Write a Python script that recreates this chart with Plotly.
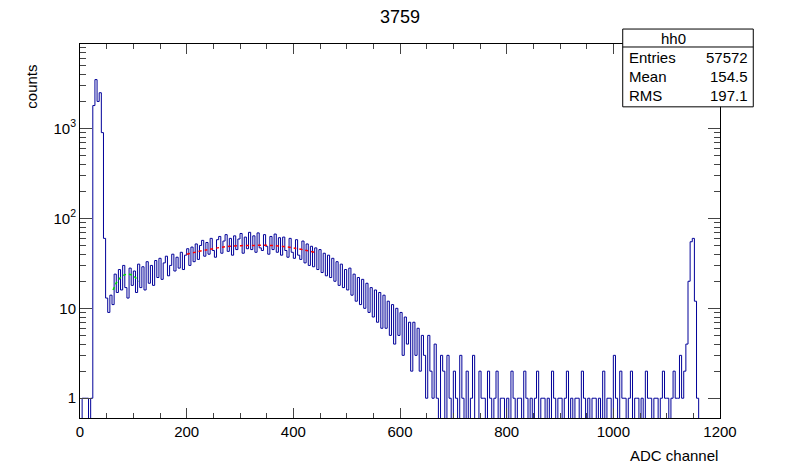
import plotly.graph_objects as go

# bin width 4 ADC channels, lower edges 0..1196
bin_width = 4
counts = [
    0, 1, 1, 1, 0, 1, 1800, 3500, 2000, 2500, 900, 60, 13, 9, 14, 11, 24, 15, 27, 16, 30, 17, 13, 28, 18,
    26, 15, 31, 17, 29, 16, 33, 19, 30, 18, 34, 22, 36, 21, 32, 38, 23, 30, 40, 26, 37, 28, 42, 27, 39,
    46, 30, 48, 33, 52, 35, 50, 57, 38, 54, 40, 60, 44, 37, 58, 63, 41, 56, 66, 43, 60, 39, 64, 45, 59,
    68, 41, 62, 46, 70, 45, 64, 42, 69, 47, 44, 66, 49, 40, 63, 45, 67, 42, 61, 39, 62, 44, 37, 60, 42,
    36, 58, 39, 35, 56, 32, 52, 30, 49, 29, 47, 27, 45, 25, 41, 23, 39, 22, 36, 20, 33, 18, 31, 17, 27,
    16, 28, 14, 24, 12, 22, 11, 21, 10, 19, 9, 17, 8, 16, 7, 15, 6, 14, 6, 12, 5, 11, 4, 10, 5,
    9, 3, 8, 4, 7, 2, 7, 3, 6, 2, 5, 3, 1, 5, 2, 1, 4, 1, 0, 3, 2, 0, 3, 1, 0,
    2, 1, 0, 3, 1, 0, 2, 0, 1, 3, 0, 0, 2, 1, 1, 0, 2, 1, 0, 1, 2, 0, 1, 1, 0,
    1, 0, 2, 1, 0, 1, 1, 0, 2, 1, 0, 1, 0, 1, 2, 0, 1, 1, 0, 1, 0, 2, 1, 0, 1,
    1, 0, 1, 2, 0, 1, 0, 1, 1, 0, 2, 1, 0, 1, 0, 1, 1, 0, 1, 0, 2, 0, 1, 1, 0,
    3, 1, 0, 2, 1, 1, 0, 1, 2, 0, 1, 1, 0, 1, 0, 2, 1, 1, 0, 1, 1, 0, 1, 2, 1,
    1, 0, 1, 2, 1, 1, 3, 1, 2, 4, 20, 55, 60, 12, 1, 0, 0, 0, 0, 0, 0, 0, 0, 0, 0,
]
# fit curves
green_x = [62, 70, 80, 90, 100, 110]
green_y = [16, 20, 23, 24, 23, 20]
red_x = [200, 240, 280, 320, 360, 400, 440]
red_y = [40, 45, 49, 50, 50, 47, 42]

stats_name = "hh0"
stats_rows = [("Entries", "57572"), ("Mean", "154.5"), ("RMS", "197.1")]

edges = [i * bin_width for i in range(len(counts) + 1)]
ys = [max(c, 1e-3) for c in counts] + [max(counts[-1], 1e-3)]
minor_vals = [m * 10 ** d for d in range(0, 4) for m in range(2, 10)]

font = dict(family="Liberation Sans, Arial, sans-serif", size=15, color="black")
fig = go.Figure()
fig.add_trace(go.Scatter(x=edges, y=ys, mode="lines", line=dict(color="#000099", width=1, shape="hv")))
fig.add_trace(go.Scatter(x=green_x, y=green_y, mode="lines", line=dict(color="#00dd00", width=1.5, dash="dot", shape="spline")))
fig.add_trace(go.Scatter(x=red_x, y=red_y, mode="lines", line=dict(color="red", width=1.5, dash="dot", shape="spline")))

axis = dict(showline=True, mirror="ticks", linecolor="black", linewidth=1, ticks="inside",
            showgrid=False, zeroline=False, tickfont=font, automargin=False)
fig.update_xaxes(range=[0, 1200], dtick=200, ticklen=10,
                 minor=dict(ticks="inside", dtick=50, ticklen=5), **axis)
fig.update_yaxes(type="log", range=[-0.22, 3.94], tickvals=[1, 10, 100, 1000],
                 ticktext=["1", "10", "10<sup>2</sup>", "10<sup>3</sup>"], ticklen=12,
                 minor=dict(ticks="inside", ticklen=6, tickvals=minor_vals), **axis)

ann = [
    dict(text="3759", x=0.5, y=1.072, xref="paper", yref="paper", yanchor="middle", showarrow=False,
         font=dict(font, size=18)),
    dict(text="counts", x=-0.075, y=0.95, xref="paper", yref="paper", textangle=-90, xanchor="center",
         yanchor="top", showarrow=False, font=font),
    dict(text="ADC channel", x=1.0, y=-0.1, xref="paper", yref="paper", xanchor="right", yanchor="middle",
         showarrow=False, font=font),
    dict(text=stats_name, x=0.95, y=1.016, xref="paper", yref="paper", yanchor="middle", showarrow=False, font=font),
]
for i, (k, v) in enumerate(stats_rows):
    yy = 0.963 - 0.051 * i
    ann.append(dict(text=k, x=0.855, y=yy, xref="paper", yref="paper", xanchor="left", yanchor="middle",
                    showarrow=False, font=font))
    ann.append(dict(text=v, x=1.047, y=yy, xref="paper", yref="paper", xanchor="right", yanchor="middle",
                    showarrow=False, font=font))

fig.update_layout(
    width=800, height=475, margin=dict(l=72, r=88, t=36, b=65),
    plot_bgcolor="white", paper_bgcolor="white", showlegend=False, annotations=ann,
    shapes=[
        dict(type="rect", xref="paper", yref="paper", x0=0.848, x1=1.052, y0=0.832, y1=1.040,
             line=dict(color="black", width=1), fillcolor="white", layer="above"),
        dict(type="line", xref="paper", yref="paper", x0=0.848, x1=1.052, y0=0.992, y1=0.992,
             line=dict(color="black", width=1)),
    ],
)
fig.write_html("out.html")
